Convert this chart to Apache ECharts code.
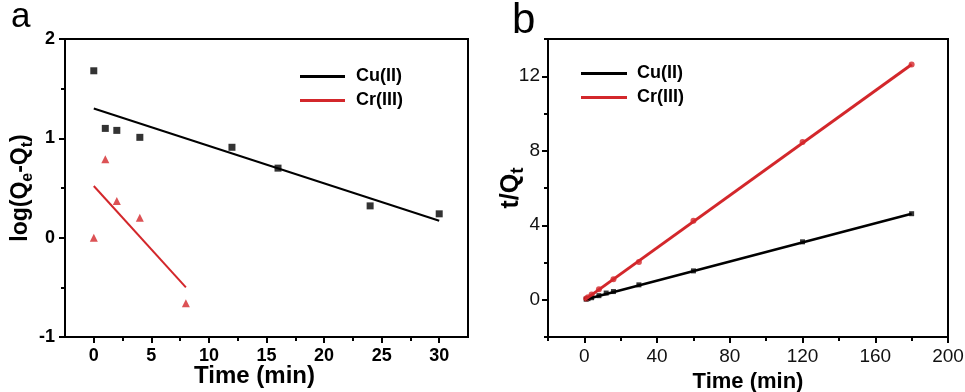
<!DOCTYPE html>
<html>
<head>
<meta charset="utf-8">
<script src="https://cdn.jsdelivr.net/npm/echarts@6/dist/echarts.min.js"></script>
<style>
  html, body { margin: 0; padding: 0; background: #fff; }
  #chart { width: 965px; height: 392px; }
</style>
</head>
<body>
<div id="chart"></div>
<script>
// Panel a: pseudo-first-order kinetics, log(Qe-Qt) vs time
const timeCuA = [0, 1, 2, 4, 12, 16, 24, 30];
const logCuA = [1.68, 1.10, 1.08, 1.01, 0.91, 0.70, 0.32, 0.24];
const timeCrA = [0, 1, 2, 4, 8];
const logCrA = [0.00, 0.79, 0.37, 0.20, -0.66];
const fitTimeCuA = [0, 30];
const fitCuA = [1.30, 0.17];
const fitTimeCrA = [0, 8];
const fitCrA = [0.52, -0.50];

// Panel b: pseudo-second-order kinetics, t/Qt vs time
const timeCuB = [1, 2, 4, 8, 12, 16, 30, 60, 120, 180];
const ratioCuB = [0.03, 0.06, 0.11, 0.22, 0.36, 0.44, 0.80, 1.55, 3.11, 4.62];
const timeCrB = [1, 2, 4, 8, 16, 30, 60, 120, 180];
const ratioCrB = [0.07, 0.14, 0.28, 0.57, 1.10, 2.03, 4.24, 8.47, 12.63];
const fitTimeB = [0, 180];
const fitCuB = [0.00, 4.62];
const fitCrB = [-0.02, 12.63];

// Tick positions
const xMajorA = [0, 5, 10, 15, 20, 25, 30];
const xMinorA = [2.5, 7.5, 12.5, 17.5, 22.5, 27.5];
const yMajorA = [-1, 0, 1, 2];
const yMinorA = [-0.5, 0.5, 1.5];
const xMajorB = [0, 40, 80, 120, 160, 200];
const xMinorB = [-20, 20, 60, 100, 140, 180];
const yMajorB = [0, 4, 8, 12];
const yMinorB = [-2, 2, 6, 10, 14];

const pairs = (xs, ys) => xs.map((x, i) => [x, ys[i]]);

const FONT = "'Liberation Sans', Arial, sans-serif";
const BLACK = '#000000';
const RED = '#d3272b';

const chart = echarts.init(document.getElementById('chart'), null, { renderer: 'canvas' });

const boldText = (size) => ({ fontFamily: FONT, fontWeight: 'bold', fontSize: size, color: BLACK });
const tickLine = { color: BLACK, width: 2 };
const plainLabel = { fontFamily: FONT, fontSize: 19, color: '#111' };

// The frame of each panel is the grid border. Tick axes come first and carry the
// major and minor tick marks; label axes carry the numbers and titles.
function axisBase(grid, min, max, position) {
  return {
    type: 'value', gridIndex: grid, min: min, max: max, position: position,
    axisLine: { show: false, onZero: false },
    splitLine: { show: false }
  };
}
function labelAxis(grid, min, max, position, ticks, labelStyle, margin, name, nameGap, nameStyle) {
  return Object.assign(axisBase(grid, min, max, position), {
    axisTick: { show: false },
    axisLabel: Object.assign({ show: true, margin: margin, customValues: ticks }, labelStyle),
    name: name, nameLocation: 'middle', nameGap: nameGap, nameMoveOverlap: false,
    nameTextStyle: nameStyle
  });
}
function tickAxis(grid, min, max, position, ticks, len) {
  return Object.assign(axisBase(grid, min, max, position), {
    axisTick: { show: true, inside: false, length: len, customValues: ticks, lineStyle: tickLine },
    axisLabel: { show: false }
  });
}
const richSub = (size, lh) => ({ s: { fontFamily: FONT, fontWeight: 'bold', fontSize: size, lineHeight: lh, verticalAlign: 'bottom', color: BLACK } });

const option = {
  backgroundColor: '#ffffff',
  animation: false,
  grid: [
    { left: 65, right: 497, top: 39, bottom: 55, outerBoundsMode: 'none', containLabel: false,
      show: true, borderColor: BLACK, borderWidth: 2, backgroundColor: 'transparent' },
    { left: 548, right: 17, top: 39, bottom: 55, outerBoundsMode: 'none', containLabel: false,
      show: true, borderColor: BLACK, borderWidth: 2, backgroundColor: 'transparent' }
  ],
  graphic: [
    { type: 'text', left: 11, top: 0, style: { text: 'a', font: "35px " + FONT, fill: BLACK } },
    { type: 'text', left: 512, top: 0, style: { text: 'b', font: "42px " + FONT, fill: BLACK } }
  ],
  legend: [
    {
      left: 300, top: 66, orient: 'vertical', padding: 0, itemGap: 3,
      icon: 'rect', itemWidth: 45, itemHeight: 3,
      textStyle: Object.assign(boldText(18), { lineHeight: 21, padding: [0, 0, 0, 6] }),
      data: ['Cu(II)', 'Cr(III)']
    },
    {
      left: 581, top: 63, orient: 'vertical', padding: 0, itemGap: 3,
      icon: 'rect', itemWidth: 46, itemHeight: 3,
      textStyle: Object.assign(boldText(18), { lineHeight: 21, padding: [0, 0, 0, 5] }),
      data: ['Cu(II)', 'Cr(III)']
    }
  ],
  xAxis: [
    tickAxis(0, -2.5, 32.5, 'bottom', xMajorA, 6),
    tickAxis(0, -2.5, 32.5, 'bottom', xMinorA, 4),
    labelAxis(0, -2.5, 32.5, 'bottom', xMajorA, boldText(18), 10, 'Time (min)', 27,
      Object.assign(boldText(24), { padding: [0, 24, 0, 0] })),
    tickAxis(1, -20, 200, 'bottom', xMajorB, 6),
    tickAxis(1, -20, 200, 'bottom', xMinorB, 4),
    labelAxis(1, -20, 200, 'bottom', xMajorB, plainLabel, 10, 'Time (min)', 34, boldText(22))
  ],
  yAxis: [
    tickAxis(0, -1, 2, 'left', yMajorA, 6),
    tickAxis(0, -1, 2, 'left', yMinorA, 4),
    labelAxis(0, -1, 2, 'left', yMajorA, boldText(18), 10, 'log(Q{s|e}-Q{s|t})', 29,
      Object.assign(boldText(23), { lineHeight: 30, rich: richSub(16, 30) })),
    tickAxis(1, -2, 14, 'left', yMajorB, 6),
    tickAxis(1, -2, 14, 'left', yMinorB, 4),
    labelAxis(1, -2, 14, 'left', yMajorB, plainLabel, 8, 't/Q{s|t}', 21,
      Object.assign(boldText(25), { lineHeight: 32, rich: richSub(19, 32) }))
  ],
  series: [
    // panel a
    { name: 'Cu(II)', type: 'line', xAxisIndex: 2, yAxisIndex: 2, data: pairs(fitTimeCuA, fitCuA),
      symbol: 'none', lineStyle: { color: BLACK, width: 2 }, itemStyle: { color: BLACK } },
    { name: 'Cr(III)', type: 'line', xAxisIndex: 2, yAxisIndex: 2, data: pairs(fitTimeCrA, fitCrA),
      symbol: 'none', lineStyle: { color: RED, width: 2 }, itemStyle: { color: RED } },
    { name: 'Cu(II) points a', type: 'scatter', xAxisIndex: 2, yAxisIndex: 2, data: pairs(timeCuA, logCuA),
      symbol: 'rect', symbolSize: 7, itemStyle: { color: BLACK } },
    { name: 'Cr(III) points a', type: 'scatter', xAxisIndex: 2, yAxisIndex: 2, data: pairs(timeCrA, logCrA),
      symbol: 'triangle', symbolSize: 8, itemStyle: { color: RED } },
    // panel b
    { name: 'Cu(II)', type: 'line', xAxisIndex: 5, yAxisIndex: 5, data: pairs(fitTimeB, fitCuB),
      symbol: 'none', lineStyle: { color: BLACK, width: 2.5 }, itemStyle: { color: BLACK } },
    { name: 'Cr(III)', type: 'line', xAxisIndex: 5, yAxisIndex: 5, data: pairs(fitTimeB, fitCrB),
      symbol: 'none', lineStyle: { color: RED, width: 3 }, itemStyle: { color: RED } },
    { name: 'Cu(II) points b', type: 'scatter', xAxisIndex: 5, yAxisIndex: 5, data: pairs(timeCuB, ratioCuB),
      symbol: 'rect', symbolSize: 5, itemStyle: { color: BLACK } },
    { name: 'Cr(III) points b', type: 'scatter', xAxisIndex: 5, yAxisIndex: 5, data: pairs(timeCrB, ratioCrB),
      symbol: 'circle', symbolSize: 6, itemStyle: { color: RED } }
  ]
};

chart.setOption(option);
</script>
</body>
</html>
